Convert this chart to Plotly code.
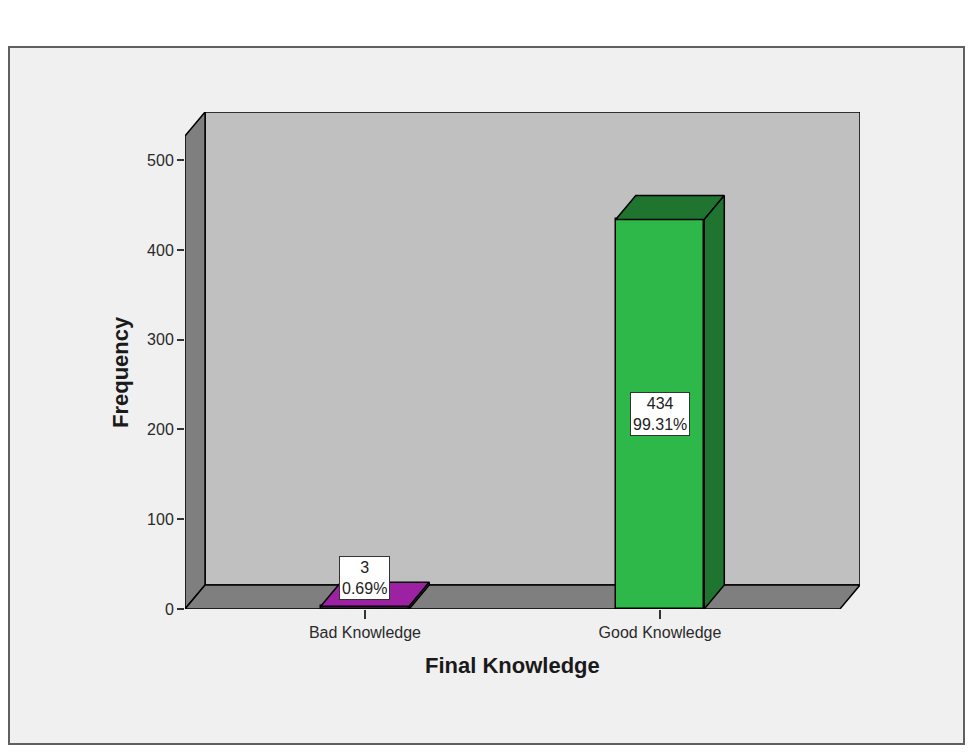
import plotly.graph_objects as go

# Final Knowledge frequencies (SPSS style 3D bar chart)
categories = ['Bad Knowledge', 'Good Knowledge']
counts = [3, 434]
percents = ['0.69%', '99.31%']
y_ticks = [0, 100, 200, 300, 400, 500]

front_colors = ['#861c8b', '#2fb84a']
shade_colors = ['#9c22a3', '#1f7530']

# depth of the fake 3D box, in data units
dx = 0.068
dy = 26.7
bar_w = 0.30
x_lo, x_hi = -0.61, 1.61
y_top = 527

xs = list(range(len(categories)))

fig = go.Figure()

# walls and floor
wall_line = dict(color='black', width=1.5)
fig.add_shape(type='path', layer='below', line=wall_line, fillcolor='#c0c0c0',
              path=f'M {x_lo+dx},{dy} L {x_hi+dx},{dy} L {x_hi+dx},{y_top+dy} L {x_lo+dx},{y_top+dy} Z')
fig.add_shape(type='path', layer='below', line=wall_line, fillcolor='#7f7f7f',
              path=f'M {x_lo},0 L {x_lo},{y_top} L {x_lo+dx},{y_top+dy} L {x_lo+dx},{dy} Z')
fig.add_shape(type='path', layer='below', line=wall_line, fillcolor='#7f7f7f',
              path=f'M {x_lo},0 L {x_hi},0 L {x_hi+dx},{dy} L {x_lo+dx},{dy} Z')

# front faces
fig.add_trace(go.Bar(
    x=xs, y=counts, width=bar_w,
    marker=dict(color=front_colors, line=dict(color='black', width=1.5)),
    hoverinfo='skip', showlegend=False
))

# top and side faces
for x, v, c in zip(xs, counts, shade_colors):
    l, r = x - bar_w / 2, x + bar_w / 2
    fig.add_trace(go.Scatter(
        x=[l, r, r + dx, l + dx, l], y=[v, v, v + dy, v + dy, v],
        mode='lines', fill='toself', fillcolor=c,
        line=dict(color='black', width=1.5), hoverinfo='skip', showlegend=False
    ))
    fig.add_trace(go.Scatter(
        x=[r, r + dx, r + dx, r, r], y=[0, dy, v + dy, v, 0],
        mode='lines', fill='toself', fillcolor=c,
        line=dict(color='black', width=1.5), hoverinfo='skip', showlegend=False
    ))

# value labels
for x, v, p in zip(xs, counts, percents):
    ypos = v / 2 if v / 2 > 40 else v + 32
    fig.add_annotation(x=x, y=ypos, text=f'{v}<br>{p}', showarrow=False,
                       bgcolor='white', bordercolor='#333333', borderwidth=1, borderpad=2,
                       font=dict(size=16, color='#222222'))

# outer frame (page has an 8px body margin, figure coords are shifted by it)
fig.add_shape(type='rect', xref='paper', yref='paper', layer='below',
              x0=(9 - 185) / 675, x1=(964 - 185) / 675,
              y0=(609 - 744) / 497, y1=(609 - 47) / 497,
              fillcolor='#f0f0f0', line=dict(color='#606060', width=2))

fig.add_annotation(xref='paper', yref='paper', x=(512 - 185) / 675, y=(609 - 665) / 497,
                   xanchor='center', yanchor='middle',
                   text='<b>Final Knowledge</b>', showarrow=False,
                   font=dict(size=22, color='#1a1a1a'))
fig.add_annotation(xref='paper', yref='paper', x=(120 - 185) / 675, y=(609 - 372) / 497,
                   xanchor='center', yanchor='middle',
                   text='<b>Frequency</b>', showarrow=False, textangle=-90,
                   font=dict(size=22, color='#1a1a1a'))

fig.update_layout(
    width=976, height=752,
    margin=dict(l=177, r=124, t=104, b=151),
    paper_bgcolor='white', plot_bgcolor='rgba(0,0,0,0)',
    font=dict(family='Arial, Liberation Sans, sans-serif', size=16, color='#2a2a2a'),
    xaxis=dict(range=[x_lo, x_hi + dx], tickvals=xs, ticktext=categories,
               showgrid=False, zeroline=False, showline=False,
               ticks='outside', ticklen=9, tickcolor='#333333', tickwidth=1.5),
    yaxis=dict(range=[0, y_top + dy], tickvals=y_ticks,
               showgrid=False, zeroline=False, showline=False,
               ticks='outside', ticklen=7, tickcolor='#333333', tickwidth=1.5),
    bargap=0
)

fig.write_html('out.html')
